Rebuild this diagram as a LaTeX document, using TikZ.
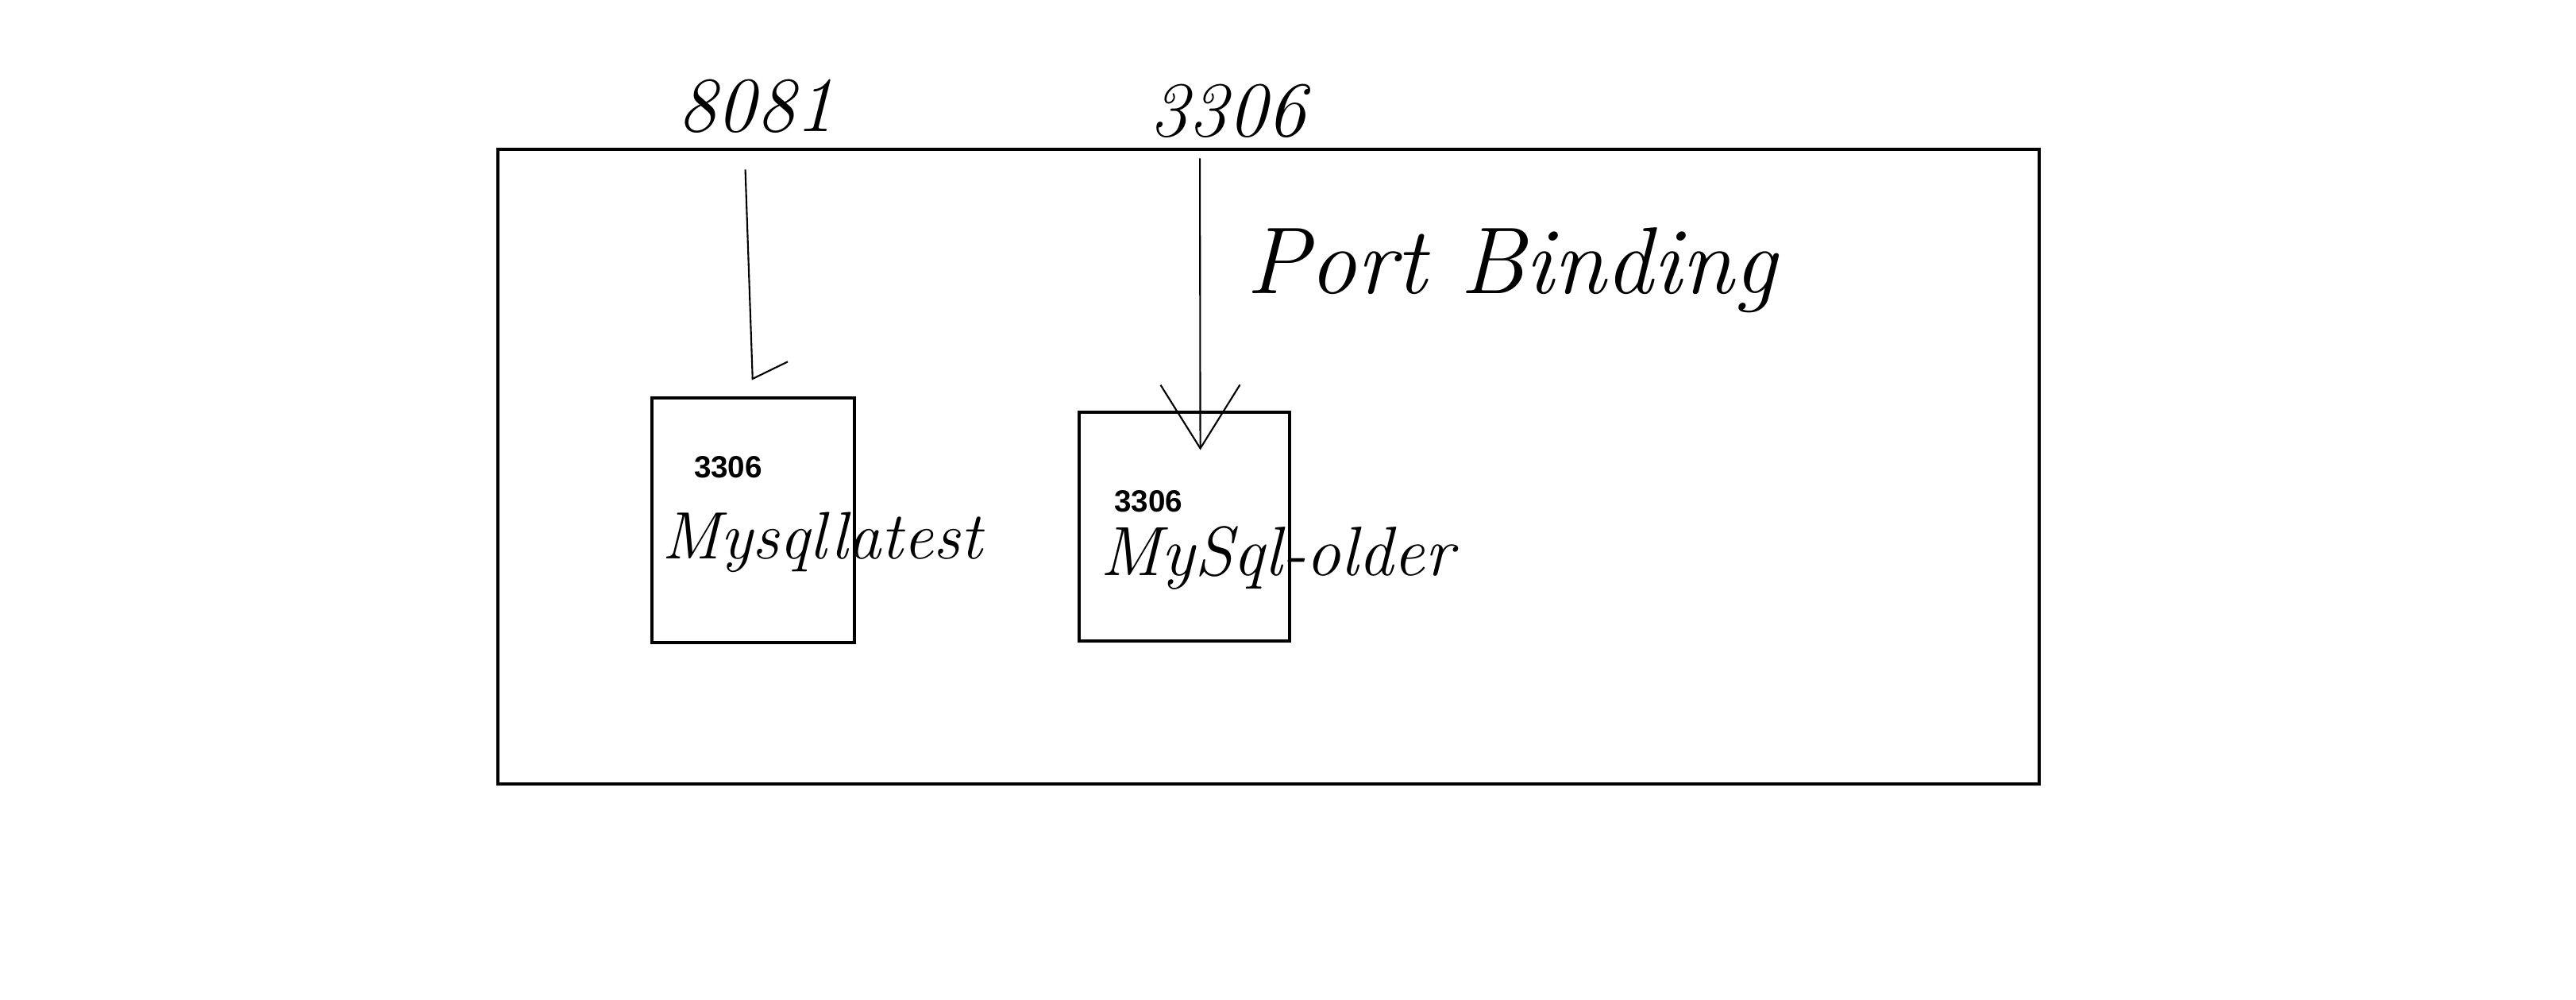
\documentclass[tikz,border=0pt]{standalone}
\usepackage{fontspec}
\newfontfamily\labelfont{Liberation Sans}
\usepackage{tikz}
\usetikzlibrary{arrows.meta, positioning, calc}

\begin{document}
\begin{tikzpicture}[
    hostbox/.style={
        draw,
        line width=1.4pt,
        minimum width=19.41cm,
        minimum height=7.99cm
    },
    container/.style={
        draw,
        line width=1.4pt,
        minimum width=2.6cm,
        minimum height=2.95cm
    },
    portlabel/.style={
        font=\labelfont\bfseries\fontsize{11}{13}\selectfont
    },
    hand/.style={
        font=\itshape\fontsize{24}{26}\selectfont,
        inner sep=0pt
    },
    handbig/.style={
        font=\itshape\fontsize{28}{30}\selectfont,
        inner sep=0pt
    },
    arrow/.style={
        -{Straight Barb[length=8mm, width=10mm]},
        line width=0.6pt
    }
]
\useasboundingbox (0,0) rectangle (32.44,12.58);

% Host
\node[hostbox] (host) at (15.975, 6.705) {};

% Containers
\node[container, minimum width=2.55cm, minimum height=3.08cm] (box1) at (9.485, 6.03) {};
\node[container, minimum width=2.65cm, minimum height=2.88cm] (box2) at (14.915, 5.95) {};

\node[portlabel] (port1) at (9.17, 6.70) {3306};
\node[portlabel] (port2) at (14.46, 6.27) {3306};

\node[hand] (name1) at (10.35, 5.75) {Mysqllatest};
\node[hand, font=\itshape\fontsize{25}{27}\selectfont] (name2) at (16.08, 5.55) {MySql-older};

% Host ports
\node[handbig] (hport1) at (9.52, 11.24) {8081};
\node[handbig] (hport2) at (15.46, 11.18) {3306};

\node[handbig, font=\itshape\fontsize{34}{36}\selectfont] (title) at (19.03, 9.18) {Port Binding};

% Arrows
\draw[arrow, -{Straight Barb[harpoon, length=2mm, width=9mm]},
      shorten <=0.45cm, shorten >=0.2cm]
    ([xshift=-0.15cm]hport1.south) -- (box1.north);
\draw[arrow, shorten <=0.25cm, shorten >=-0.5cm]
    ([xshift=-0.35cm]hport2.south) -- ([xshift=0.2cm]box2.north);

\end{tikzpicture}
\end{document}
